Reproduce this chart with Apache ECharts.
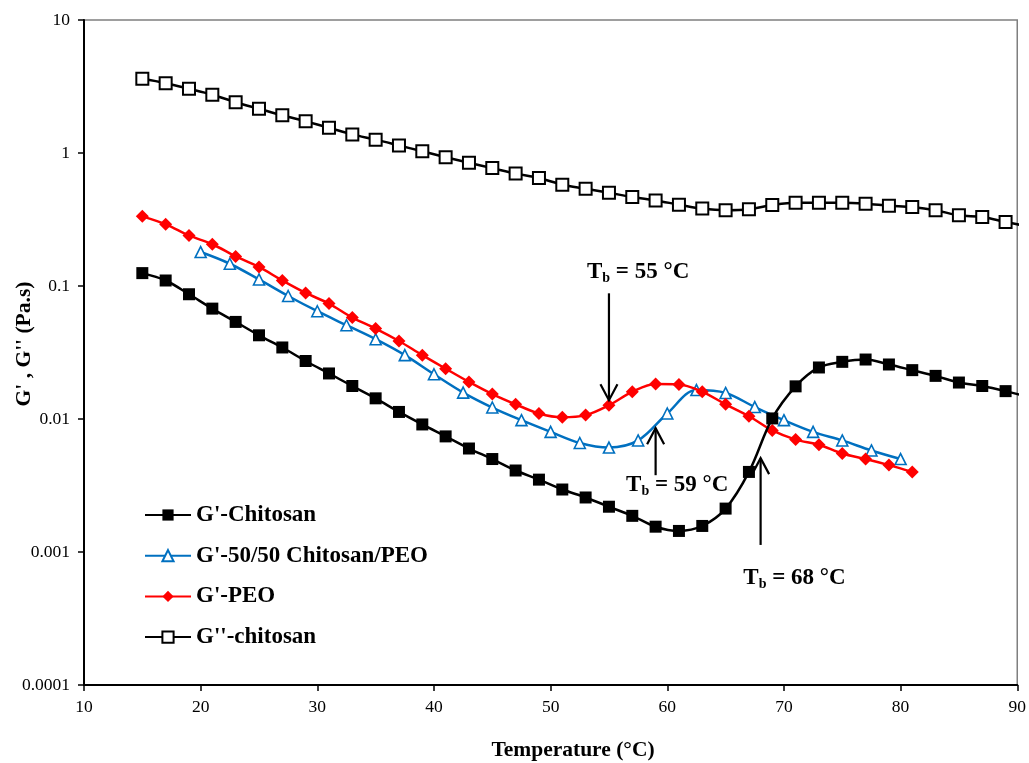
<!DOCTYPE html>
<html>
<head>
<meta charset="utf-8">
<title>G', G'' vs Temperature</title>
<script src="https://cdn.jsdelivr.net/npm/echarts@6/dist/echarts.min.js"></script>
<style>
  html, body { margin: 0; padding: 0; background: #fff; }
  #chart { width: 1029px; height: 763px; }
</style>
</head>
<body>
<div id="chart"></div>
<script>
// Temperatures (°C) of the measured points
const tempChitosan = [15, 17, 19, 21, 23, 25, 27, 29, 31, 33, 35, 37, 39, 41, 43, 45, 47, 49, 51, 53,
                      55, 57, 59, 61, 63, 65, 67, 69, 71, 73, 75, 77, 79, 81, 83, 85, 87, 89, 91];
const tempPEO = [15, 17, 19, 21, 23, 25, 27, 29, 31, 33, 35, 37, 39, 41, 43, 45, 47, 49, 51, 53,
                 55, 57, 59, 61, 63, 65, 67, 69, 71, 73, 75, 77, 79, 81];
const tempBlend = [20, 22.5, 25, 27.5, 30, 32.5, 35, 37.5, 40, 42.5, 45, 47.5, 50, 52.5, 55, 57.5,
                   60, 62.5, 65, 67.5, 70, 72.5, 75, 77.5, 80];

// G' of chitosan (Pa.s)
const gPrimeChitosan = [0.125, 0.110, 0.0867, 0.0676, 0.0537, 0.0426, 0.0345, 0.0273, 0.0220, 0.0177,
                        0.0143, 0.0113, 0.0091, 0.0074, 0.0060, 0.0050, 0.0041, 0.0035, 0.00295, 0.00257,
                        0.00219, 0.00187, 0.00155, 0.00144, 0.00157, 0.00212, 0.0040, 0.0101, 0.0176, 0.0244,
                        0.0269, 0.0280, 0.0257, 0.0233, 0.0211, 0.0188, 0.0177, 0.0162, 0.0146];
// G' of the 50/50 chitosan/PEO blend
const gPrimeBlend = [0.180, 0.147, 0.112, 0.0841, 0.0646, 0.0507, 0.0398, 0.0302, 0.0217, 0.0158,
                     0.0122, 0.0098, 0.0080, 0.0066, 0.0061, 0.0069, 0.0110, 0.0165, 0.0157, 0.0123,
                     0.0098, 0.0080, 0.0069, 0.0058, 0.0050];
// G' of PEO
const gPrimePEO = [0.334, 0.291, 0.240, 0.206, 0.167, 0.139, 0.110, 0.0886, 0.0738, 0.0579,
                   0.0479, 0.0386, 0.0302, 0.0239, 0.0190, 0.0154, 0.0129, 0.0110, 0.0103, 0.0107,
                   0.0127, 0.0160, 0.0183, 0.0182, 0.0160, 0.0129, 0.0105, 0.0082, 0.0070, 0.0064,
                   0.0055, 0.0050, 0.0045, 0.0040];
// G'' of chitosan
const gDoublePrimeChitosan = [3.61, 3.35, 3.04, 2.74, 2.41, 2.15, 1.92, 1.73, 1.55, 1.38,
                              1.26, 1.14, 1.03, 0.93, 0.845, 0.77, 0.70, 0.648, 0.578, 0.539,
                              0.503, 0.466, 0.440, 0.409, 0.382, 0.371, 0.377, 0.406, 0.423, 0.423,
                              0.423, 0.416, 0.402, 0.392, 0.371, 0.340, 0.330, 0.303, 0.28];

const seriesNames = ["G'-Chitosan", "G'-50/50 Chitosan/PEO", "G'-PEO", "G''-chitosan"];

// Transition temperatures with arrow ends and label anchors:
// [Tb, arrow start (Pa.s), arrow tip (Pa.s), label x (°C), label y (Pa.s)]
const transitions = [
  [55, 0.0881, 0.01384, 57.5, 0.1267],
  [59, 0.00378, 0.00853, 60.85, 0.00318],
  [68, 0.00113, 0.00508, 70.9, 0.000637]
];

const xTicks = { min: 10, max: 90, interval: 10 };
const yTicks = { min: 0.0001, max: 10 };

const zip = (xs, ys) => xs.map((x, i) => [x, ys[i]]);

const SERIF = '"Liberation Serif", "Times New Roman", serif';

const chart = echarts.init(document.getElementById('chart'), null, { renderer: 'canvas' });

const BLUE = '#0070C0';
const RED = '#FF0000';

chart.setOption({
  animation: false,
  backgroundColor: '#fff',
  grid: {
    left: 84, right: 11, top: 20, bottom: 78,
    show: true, borderColor: '#7f7f7f', borderWidth: 1.5, backgroundColor: 'transparent'
  },
  legend: {
    data: seriesNames,
    orient: 'vertical',
    left: 144, top: 502,
    padding: 0,
    itemWidth: 46, itemHeight: 14, itemGap: 14.7,
    textStyle: { fontFamily: SERIF, fontWeight: 'bold', fontSize: 23, color: '#000', lineHeight: 26 },
    selectedMode: false
  },
  xAxis: {
    type: 'value',
    min: xTicks.min, max: xTicks.max, interval: xTicks.interval,
    axisLine: { onZero: false, lineStyle: { color: '#000', width: 2 } },
    axisTick: { show: true, inside: false, length: 6, lineStyle: { color: '#000', width: 1.5 } },
    axisLabel: { fontFamily: SERIF, fontSize: 17.5, color: '#000', margin: 13 },
    splitLine: { show: false }
  },
  yAxis: {
    type: 'log', logBase: 10,
    min: yTicks.min, max: yTicks.max, interval: 1,
    axisLine: { show: true, lineStyle: { color: '#000', width: 2 } },
    axisTick: { show: true, inside: false, length: 6, lineStyle: { color: '#000', width: 1.5 } },
    axisLabel: {
      fontFamily: SERIF, fontSize: 17.5, color: '#000', margin: 14,
      formatter: v => String(Number(Number(v).toPrecision(4)))
    },
    minorTick: { show: false },
    splitLine: { show: false }
  },
  graphic: [
    {
      type: 'text', x: 24, y: 344, rotation: Math.PI / 2,
      style: {
        text: "G' , G'' (Pa.s)", fill: '#000',
        font: 'bold 21.5px ' + SERIF, align: 'center', verticalAlign: 'middle'
      }
    },
    {
      type: 'text', x: 573, y: 750,
      style: {
        text: 'Temperature (°C)', fill: '#000',
        font: 'bold 21.5px ' + SERIF, align: 'center', verticalAlign: 'middle'
      }
    }
  ],
  series: [
    {
      name: seriesNames[1], type: 'line', z: 3,
      data: zip(tempBlend, gPrimeBlend),
      smooth: 0.35,
      symbol: 'triangle', symbolSize: 11,
      lineStyle: { color: BLUE, width: 2.5 },
      itemStyle: { color: '#fff', borderColor: BLUE, borderWidth: 1.6 }
    },
    {
      name: seriesNames[2], type: 'line', z: 4,
      data: zip(tempPEO, gPrimePEO),
      smooth: 0.35,
      symbol: 'diamond', symbolSize: 13,
      lineStyle: { color: RED, width: 2.5 },
      itemStyle: { color: RED, borderColor: RED, borderWidth: 0 }
    },
    {
      name: seriesNames[0], type: 'line', z: 5,
      data: zip(tempChitosan, gPrimeChitosan),
      smooth: 0.35, clip: true,
      symbol: 'rect', symbolSize: 12,
      lineStyle: { color: '#000', width: 2.5 },
      itemStyle: { color: '#000', borderColor: '#000', borderWidth: 0 }
    },
    {
      name: seriesNames[3], type: 'line', z: 5,
      data: zip(tempChitosan, gDoublePrimeChitosan),
      smooth: 0.35, clip: true,
      symbol: 'rect', symbolSize: 12,
      lineStyle: { color: '#000', width: 2.5 },
      itemStyle: { color: '#fff', borderColor: '#000', borderWidth: 2 }
    },
    {
      name: 'transitions', type: 'custom', z: 10, silent: true, clip: false,
      encode: { x: [0, 3], y: [1, 2, 4] },
      data: transitions,
      renderItem(params, api) {
        const tb = api.value(0);
        const p0 = api.coord([tb, api.value(1)]);
        const p1 = api.coord([tb, api.value(2)]);
        const pl = api.coord([api.value(3), api.value(4)]);
        const dir = p1[1] > p0[1] ? 1 : -1;
        const hw = 8.5, hh = 16;
        const stroke = { stroke: '#000', lineWidth: 2.2, fill: null };
        return {
          type: 'group',
          children: [
            { type: 'line', shape: { x1: p0[0], y1: p0[1], x2: p1[0], y2: p1[1] }, style: stroke },
            {
              type: 'polyline',
              shape: { points: [[p1[0] - hw, p1[1] - dir * hh], [p1[0], p1[1]], [p1[0] + hw, p1[1] - dir * hh]] },
              style: stroke
            },
            {
              type: 'text', x: pl[0], y: pl[1],
              style: {
                text: '{t|T}{s|b}{t| = ' + tb + ' °C}',
                align: 'center', verticalAlign: 'middle',
                rich: {
                  t: { fontFamily: SERIF, fontWeight: 'bold', fontSize: 23, lineHeight: 26, fill: '#000', verticalAlign: 'middle' },
                  s: { fontFamily: SERIF, fontWeight: 'bold', fontSize: 14, lineHeight: 14, fill: '#000', verticalAlign: 'bottom' }
                }
              }
            }
          ]
        };
      }
    }
  ]
});
</script>
</body>
</html>
